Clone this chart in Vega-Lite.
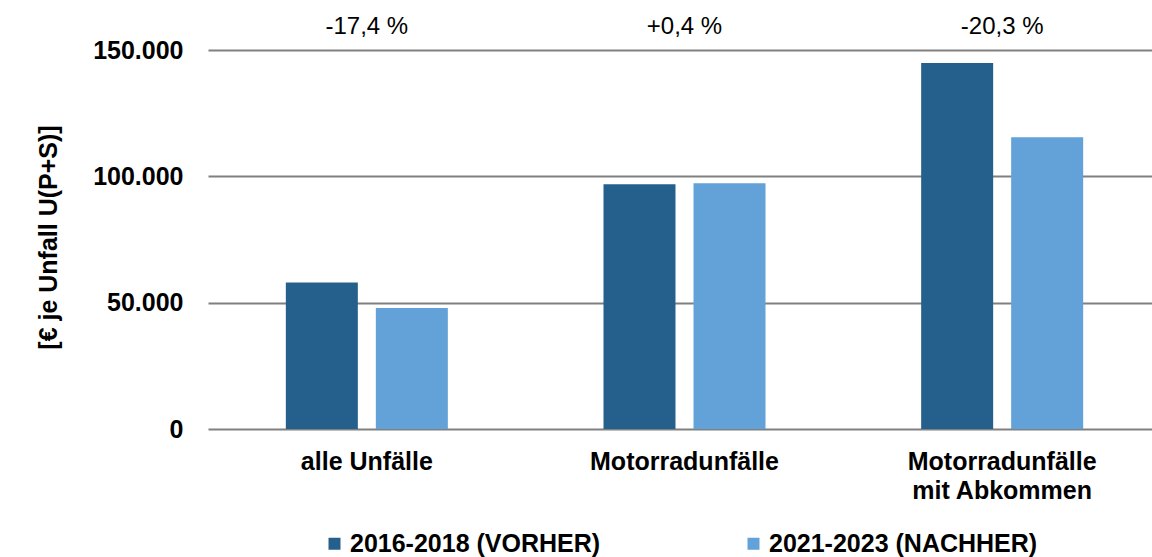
{
  "$schema": "https://vega.github.io/schema/vega-lite/v6.json",
  "autosize": "none",
  "width": 944,
  "height": 379,
  "padding": {"left": 208, "top": 50, "right": 0, "bottom": 128},
  "background": "white",
  "config": {
    "view": {"stroke": null},
    "font": "Liberation Sans"
  },
  "datasets": {
    "bars": [
      {"Kategorie": "alle Unfälle", "Zeitraum": "2016-2018 (VORHER)", "Wert": 58000},
      {"Kategorie": "alle Unfälle", "Zeitraum": "2021-2023 (NACHHER)", "Wert": 47900},
      {"Kategorie": "Motorradunfälle", "Zeitraum": "2016-2018 (VORHER)", "Wert": 96900},
      {"Kategorie": "Motorradunfälle", "Zeitraum": "2021-2023 (NACHHER)", "Wert": 97300},
      {"Kategorie": "Motorradunfälle mit Abkommen", "Zeitraum": "2016-2018 (VORHER)", "Wert": 144900},
      {"Kategorie": "Motorradunfälle mit Abkommen", "Zeitraum": "2021-2023 (NACHHER)", "Wert": 115500}
    ],
    "changes": [
      {"Kategorie": "alle Unfälle", "Änderung": "-17,4 %"},
      {"Kategorie": "Motorradunfälle", "Änderung": "+0,4 %"},
      {"Kategorie": "Motorradunfälle mit Abkommen", "Änderung": "-20,3 %"}
    ]
  },
  "layer": [
    {
      "data": {"name": "bars"},
      "mark": {"type": "bar"},
      "encoding": {
        "x": {
          "field": "Kategorie",
          "type": "nominal",
          "sort": null,
          "scale": {"range": [0, 953], "paddingInner": 0.49, "paddingOuter": 0.245},
          "axis": {
            "title": null,
            "labelAngle": 0,
            "labelFont": "Liberation Sans",
            "labelFontWeight": "bold",
            "labelFontSize": 25,
            "labelColor": "black",
            "labelPadding": 20,
            "labelLineHeight": 29,
            "labelLimit": 400,
            "labelExpr": "datum.label == 'Motorradunfälle mit Abkommen' ? ['Motorradunfälle', 'mit Abkommen'] : datum.label",
            "domain": false,
            "ticks": false,
            "grid": false
          }
        },
        "xOffset": {
          "field": "Zeitraum",
          "type": "nominal",
          "scale": {"paddingInner": 0.2, "paddingOuter": 0}
        },
        "y": {
          "field": "Wert",
          "type": "quantitative",
          "scale": {"domain": [0, 150000], "nice": false},
          "axis": {
            "values": [0, 50000, 100000, 150000],
            "labelExpr": "replace(format(datum.value, ','), ',', '.')",
            "labelFont": "Liberation Sans",
            "labelFontWeight": "bold",
            "labelFontSize": 25,
            "labelColor": "black",
            "labelPadding": 25,
            "domain": false,
            "ticks": false,
            "grid": true,
            "gridColor": "#808080",
            "gridWidth": 2,
            "title": "[€ je Unfall U(P+S)]",
            "titleFont": "Liberation Sans",
            "titleFontWeight": "bold",
            "titleFontSize": 25,
            "titleColor": "black",
            "titleAngle": 270,
            "titleX": -160,
            "titleY": 187,
            "titleAlign": "center",
            "titleBaseline": "middle"
          }
        },
        "color": {
          "field": "Zeitraum",
          "type": "nominal",
          "scale": {"range": ["#25608D", "#62A2D8"]},
          "legend": {
            "title": null,
            "orient": "none",
            "direction": "horizontal",
            "legendX": 114,
            "legendY": 481,
            "symbolType": "square",
            "symbolSize": 144,
            "symbolStrokeWidth": 0,
            "labelFont": "Liberation Sans",
            "labelFontWeight": "bold",
            "labelFontSize": 25,
            "labelColor": "black",
            "labelOffset": 3,
            "columnPadding": 140,
            "labelLimit": 400
          }
        }
      }
    },
    {
      "data": {"name": "changes"},
      "mark": {"type": "text", "fontSize": 24, "font": "Liberation Sans", "color": "black", "baseline": "alphabetic", "align": "center"},
      "encoding": {
        "x": {"field": "Kategorie", "type": "nominal", "sort": null},
        "y": {"datum": 156200, "scale": {"domain": [0, 150000], "nice": false}},
        "text": {"field": "Änderung"}
      }
    }
  ]
}
